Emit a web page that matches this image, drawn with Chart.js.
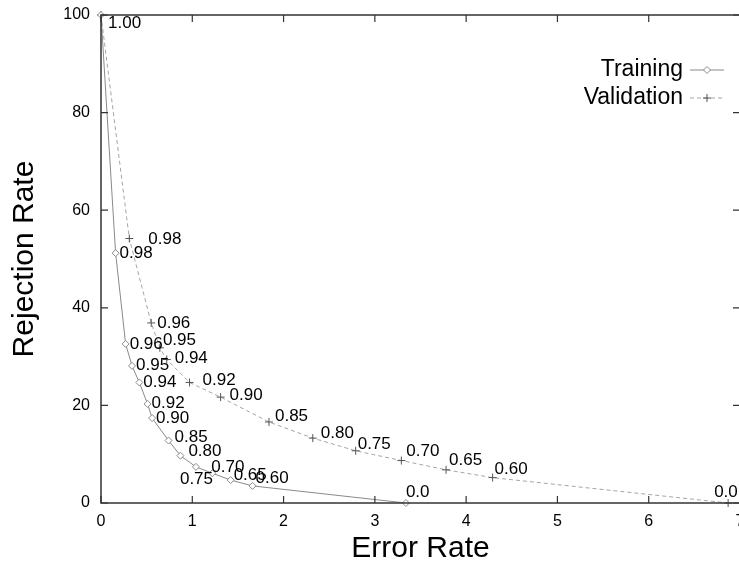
<!DOCTYPE html>
<html>
<head>
<meta charset="utf-8">
<script src="https://cdn.jsdelivr.net/npm/chart.js@4"></script>
<style>
  html, body { margin: 0; padding: 0; background: #fff; overflow: hidden; }
  #wrap { width: 750px; height: 565px; }
</style>
</head>
<body>
<div id="wrap"><canvas id="rej-chart"></canvas></div>
<script>
// Thresholds shown next to each point
const trainingLabels = ['1.00', '0.98', '0.96', '0.95', '0.94', '0.92', '0.90', '0.85', '0.80', '0.75', '0.70', '0.65', '0.60', '0.0'];
const trainingError = [0, 0.16, 0.27, 0.34, 0.42, 0.51, 0.56, 0.74, 0.87, 1.04, 1.22, 1.42, 1.66, 3.34];
const trainingReject = [100, 51.2, 32.6, 28.1, 24.7, 20.3, 17.4, 12.8, 9.7, 7.4, 6.1, 4.7, 3.5, 0];

const validationLabels = ['', '0.98', '0.96', '0.95', '0.94', '0.92', '0.90', '0.85', '0.80', '0.75', '0.70', '0.65', '0.60', '0.0'];
const validationError = [0, 0.31, 0.55, 0.645, 0.72, 0.97, 1.31, 1.84, 2.32, 2.79, 3.29, 3.78, 4.29, 6.87];
const validationReject = [100, 54.2, 36.9, 31.8, 29.4, 24.7, 21.7, 16.6, 13.3, 10.7, 8.7, 6.8, 5.2, 0];

// Tick values
const xTicks = [0, 1, 2, 3, 4, 5, 6, 7];
const yTicks = [0, 20, 40, 60, 80, 100];

// pixel nudges for the point labels (label left edge / middle, relative to the point)
const trainingNudge = [[7, 8], [4, 0], [4, 0], [4, -1], [4, 0], [4, -1], [4, 0], [6, -3], [8, -4], [-16, 12], [-1, -6], [3, -5], [3, -8], [0, -11]];
const validationNudge = [[0, 0], [19, 1], [6, 0], [3, -8], [8, -1], [13, -2], [9, -2], [6, -6], [8, -5], [2, -6], [5, -9], [3, -10], [2, -8], [-14, -11]];

const FONT = '"Liberation Sans", Arial, Helvetica, sans-serif';

function toPoints(xs, ys) {
  return xs.map((x, i) => ({ x: x, y: ys[i] }));
}

// fixed axis sizes, no extra label padding
function fixSize(prop, size) {
  return scale => {
    scale[prop] = size;
    scale.paddingTop = 0;
    scale.paddingBottom = 0;
    scale.paddingLeft = 0;
    scale.paddingRight = 0;
  };
}

// Frame with gnuplot style inward ticks
const framePlugin = {
  id: 'frame',
  afterDraw(chart) {
    const { ctx, chartArea: a, scales } = chart;
    ctx.save();
    ctx.strokeStyle = '#333';
    ctx.lineWidth = 1.5;
    ctx.strokeRect(a.left, a.top, a.right - a.left, a.bottom - a.top);
    ctx.lineWidth = 1.2;
    ctx.beginPath();
    xTicks.forEach(v => {
      const px = scales.x.getPixelForValue(v);
      ctx.moveTo(px, a.bottom); ctx.lineTo(px, a.bottom - 7);
      ctx.moveTo(px, a.top); ctx.lineTo(px, a.top + 7);
    });
    yTicks.forEach(v => {
      const py = scales.y.getPixelForValue(v);
      ctx.moveTo(a.left, py); ctx.lineTo(a.left + 7, py);
      ctx.moveTo(a.right, py); ctx.lineTo(a.right - 7, py);
    });
    ctx.stroke();
    ctx.restore();
  }
};

// Threshold labels beside the points
const pointLabelPlugin = {
  id: 'pointLabels',
  afterDatasetsDraw(chart) {
    const ctx = chart.ctx;
    const sets = [[trainingLabels, trainingNudge], [validationLabels, validationNudge]];
    ctx.save();
    ctx.font = '17px ' + FONT;
    ctx.fillStyle = '#000';
    ctx.textAlign = 'left';
    ctx.textBaseline = 'middle';
    sets.forEach(([labels, nudge], di) => {
      chart.getDatasetMeta(di).data.forEach((pt, i) => {
        if (!labels[i]) return;
        ctx.fillText(labels[i], pt.x + nudge[i][0], pt.y + nudge[i][1]);
      });
    });
    ctx.restore();
  }
};

// Legend in the gnuplot layout: text on the left, sample on the right
const keyPlugin = {
  id: 'key',
  afterDraw(chart) {
    const ctx = chart.ctx;
    const rows = [
      { text: 'Training', y: 70, ds: chart.data.datasets[0] },
      { text: 'Validation', y: 98, ds: chart.data.datasets[1] }
    ];
    ctx.save();
    ctx.font = '23px ' + FONT;
    ctx.textAlign = 'right';
    ctx.textBaseline = 'middle';
    rows.forEach(r => {
      ctx.fillStyle = '#000';
      ctx.fillText(r.text, 683, r.y);
      ctx.strokeStyle = r.ds.borderColor;
      ctx.lineWidth = 1;
      ctx.setLineDash(r.ds.borderDash || []);
      ctx.beginPath();
      ctx.moveTo(690, r.y);
      ctx.lineTo(724, r.y);
      ctx.stroke();
      ctx.setLineDash([]);
      ctx.fillStyle = '#fff';
      ctx.strokeStyle = r.ds.pointBorderColor;
      Chart.helpers.drawPoint(ctx, {
        pointStyle: r.ds.pointStyle,
        radius: r.ds.pointRadius,
        borderWidth: 1
      }, 707, r.y);
    });
    ctx.restore();
  }
};

const ctx = document.getElementById('rej-chart').getContext('2d');

const chartData = {
  datasets: [
    {
      label: 'Training',
      data: toPoints(trainingError, trainingReject),
      showLine: true,
      borderColor: '#8a8a8a',
      borderWidth: 1,
      backgroundColor: 'rgba(0,0,0,0)',
      pointStyle: 'rectRot',
      pointRadius: 3.5,
      pointBorderColor: '#8a8a8a',
      pointBackgroundColor: '#fff',
      pointBorderWidth: 1,
      clip: false
    },
    {
      label: 'Validation',
      data: toPoints(validationError, validationReject),
      showLine: true,
      borderColor: '#a5a5a5',
      borderWidth: 1,
      borderDash: [4, 3],
      backgroundColor: 'rgba(0,0,0,0)',
      pointStyle: 'cross',
      pointRadius: 4,
      pointBorderColor: '#555',
      pointBorderWidth: 1,
      clip: false
    }
  ]
};

const chartConfig = {
  type: 'scatter',
  data: chartData,
  options: {
    responsive: true,
    maintainAspectRatio: false,
    animation: false,
    layout: { padding: { top: 15, right: 10, left: 0, bottom: 0 } },
    plugins: {
      legend: { display: false },
      tooltip: { enabled: false }
    },
    scales: {
      x: {
        type: 'linear',
        min: 0,
        max: 7,
        afterBuildTicks: scale => { scale.ticks = xTicks.map(v => ({ value: v })); },
        afterFit: fixSize('height', 62),
        grid: { display: false, drawTicks: false },
        border: { display: false },
        ticks: { color: '#000', padding: 9, font: { family: FONT, size: 16 }, maxRotation: 0 },
        title: { display: true, text: 'Error Rate', color: '#000', font: { family: FONT, size: 30 }, padding: { top: 0, bottom: -2 } }
      },
      y: {
        type: 'linear',
        min: 0,
        max: 100,
        afterBuildTicks: scale => { scale.ticks = yTicks.map(v => ({ value: v })); },
        afterFit: fixSize('width', 101),
        grid: { display: false, drawTicks: false },
        border: { display: false },
        ticks: { color: '#000', padding: 11, font: { family: FONT, size: 16 } },
        title: { display: true, text: 'Rejection Rate', color: '#000', font: { family: FONT, size: 30 }, padding: { top: 7, bottom: 0 } }
      }
    }
  },
  plugins: [framePlugin, pointLabelPlugin, keyPlugin]
};

window.myChart = new Chart(ctx, chartConfig);
</script>
</body>
</html>
